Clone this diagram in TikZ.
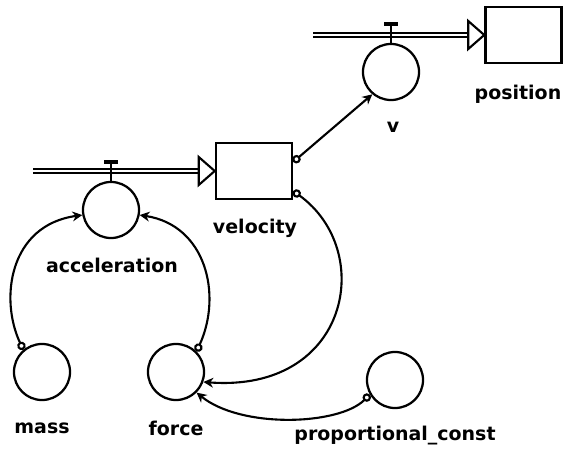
\documentclass[tikz,border=0pt]{standalone}
\usepackage{fontspec}
\newfontfamily\diagfont{DejaVu Sans}
\usetikzlibrary{arrows.meta, calc}

\tikzset{
  stock/.style={draw, line width=1.8pt, minimum width=1.9cm, minimum height=1.4cm, inner sep=0pt},
  conv/.style={draw, circle, line width=1.6pt, minimum size=1.4cm, inner sep=0pt},
  lbl/.style={font=\diagfont\bfseries\fontsize{13.5}{16}\selectfont, inner sep=0pt},
  flowpipe/.style={double, double distance=1.2pt, line width=1.5pt},
  flowhead/.style={draw, fill=white, line width=1.5pt, line join=miter},
  valvebar/.style={line width=2.6pt},
  link/.style={line width=1.5pt, {Circle[open,length=6pt,width=6pt]}-{Stealth[length=7pt,width=7pt]}},
}

\begin{document}
\begin{tikzpicture}[x=0.025cm, y=0.025cm]
  \useasboundingbox (0,0) rectangle (566,449);

  % Stocks
  \node[stock] (position) at (523.5,414) {};
  \node[stock] (velocity) at (254,278) {};

  % Converters
  \node[conv] (v) at (391,377) {};
  \node[conv] (acceleration) at (111,239) {};
  \node[conv] (mass) at (42,77) {};
  \node[conv] (force) at (176,77) {};
  \node[conv] (propconst) at (395,69) {};

  % Labels
  \node[lbl] (positionlbl) at (518,355) {position};
  \node[lbl] (velocitylbl) at (255,221) {velocity};
  \node[lbl] (vlbl) at (393,322) {v};
  \node[lbl] (accelerationlbl) at (112,184) {acceleration};
  \node[lbl] (masslbl) at (42,21) {mass};
  \node[lbl] (forcelbl) at (176,21) {force};
  \node[lbl] (propconstlbl) at (395,13) {proportional\_const};

  % Flow into position
  \coordinate (possrc) at (313,414);
  \draw[flowpipe] (possrc) -- ($(position.west)+(-16,0)$);
  \draw[flowhead] (position.west) -- ++(-16,14) -- ++(0,-28) -- cycle;
  \draw[line width=1.6pt] (v.north) -- ++(0,19);
  \draw[valvebar] ($(v.north)+(-7,19)$) -- ++(14,0);

  % Flow into velocity
  \coordinate (velsrc) at (33,278);
  \draw[flowpipe] (velsrc) -- ($(velocity.west)+(-16,0)$);
  \draw[flowhead] (velocity.west) -- ++(-16,14) -- ++(0,-28) -- cycle;
  \draw[line width=1.6pt] (acceleration.north) -- ++(0,19);
  \draw[valvebar] ($(acceleration.north)+(-7,19)$) -- ++(14,0);

  % Connectors
  \draw[link] (velocity.13) -- (v.230);
  \draw[link] (velocity.-27) .. controls +(83,-60) and +(146,-11) .. (force.-20);
  \draw[link] (mass.130) .. controls +(-24,51) and +(-73,-10) .. (acceleration.190);
  \draw[link] (force.45) .. controls +(26,57) and +(66,-10) .. (acceleration.-10);
  \draw[link] (propconst.210) .. controls +(-31,-31) and +(44,-36) .. (force.-45);
\end{tikzpicture}
\end{document}
